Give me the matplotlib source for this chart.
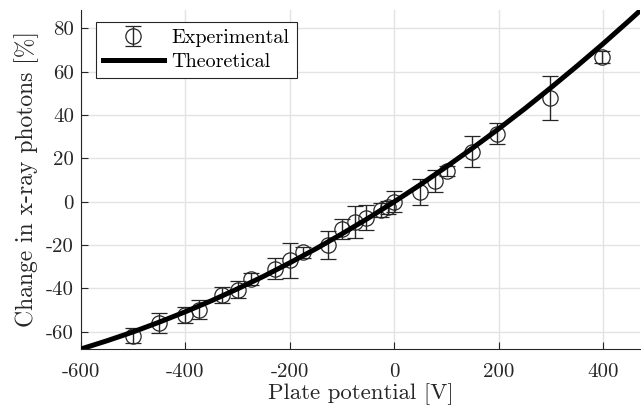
import matplotlib
matplotlib.use('Agg')
from matplotlib import pyplot as plt

plt.rcParams['font.family'] = ['cmr10', 'DejaVu Serif']
plt.rcParams['axes.unicode_minus'] = False
plt.rcParams['font.size'] = 14.5

# experimental data (plate potential [V], change [%], error [%])
exp_x = [-500, -450, -400, -375, -330, -300, -275, -228, -200, -175,
         -127, -100, -75, -55, -25, -13, 0, 48, 77, 100, 148, 197, 298, 397]
exp_y = [-61.8, -56.0, -52.3, -49.8, -43.0, -40.6, -35.7, -31.0, -27.1, -23.4,
         -20.0, -12.6, -9.5, -7.4, -4.0, -2.5, 0.0, 4.3, 9.5, 14.1, 23.1, 31.4, 47.7, 66.6]
exp_err = [3.5, 4.8, 3.5, 4.5, 3.7, 4.0, 2.9, 4.9, 8.0, 2.6,
           6.3, 4.6, 7.5, 5.8, 3.2, 3.0, 5.0, 6.0, 5.2, 2.3, 7.0, 4.9, 10.2, 2.8]

# theoretical curve
theo_x = [-600, -550, -500, -450, -400, -350, -300, -250, -200, -150, -100, -50,
          0, 50, 100, 150, 200, 250, 300, 350, 400, 450, 470]
theo_y = [-68.0, -64.2, -60.1, -55.6, -50.8, -45.7, -40.2, -34.4, -28.2, -21.7, -14.8, -7.6,
          0.0, 7.9, 16.2, 24.8, 33.7, 43.0, 52.7, 62.7, 73.0, 83.7, 88.1]

xticks = [-600, -400, -200, 0, 200, 400]
yticks = [-60, -40, -20, 0, 20, 40, 60, 80]

fig = plt.figure(figsize=(6.41, 4.12), dpi=100)
ax = fig.add_axes([0.1264, 0.153, 0.872, 0.823])

exp_h = ax.errorbar(exp_x, exp_y, yerr=exp_err, fmt='o', color='#262626', mfc='none',
                    mec='#262626', ms=11, mew=0.9, elinewidth=1.0, capsize=6, capthick=1.0,
                    label='Experimental', zorder=3)
theo_h, = ax.plot(theo_x, theo_y, color='black', lw=3.6, label='Theoretical', zorder=4)

ax.set_xlim(-600, 470)
ax.set_ylim(-68, 88.5)
ax.set_xticks(xticks)
ax.set_yticks(yticks)
ax.grid(True, color='#e3e3e3', lw=1)
ax.set_axisbelow(True)
ax.tick_params(direction='in', length=5, width=0.8, colors='#262626', labelcolor='#262626',
               labelsize=15)
ax.tick_params(axis='x', pad=10)
ax.tick_params(axis='y', pad=5)
for side in ['top', 'right']:
    ax.spines[side].set_visible(False)
for side in ['left', 'bottom']:
    ax.spines[side].set_color('#262626')
    ax.spines[side].set_linewidth(0.8)

ax.set_xlabel('Plate potential [V]', color='#262626', fontsize=16.4, labelpad=2)
ax.set_ylabel('Change in x-ray photons [%]', color='#262626', fontsize=17, labelpad=5)

leg = ax.legend([exp_h, theo_h], ['Experimental', 'Theoretical'],
                loc='upper left', bbox_to_anchor=(0.027, 0.965), fancybox=False,
                edgecolor='#262626', framealpha=1, handlelength=3.0, borderpad=0.35,
                labelspacing=0.3, handletextpad=0.4, borderaxespad=0)
leg.get_frame().set_linewidth(0.8)

fig.savefig('out.png', dpi=100)
